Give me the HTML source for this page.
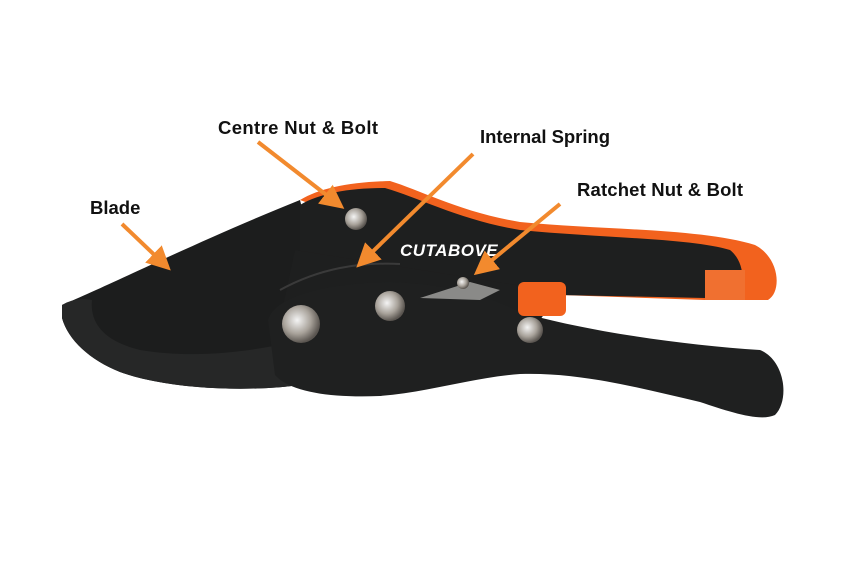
<!DOCTYPE html>
<html><head><meta charset="utf-8"><style>
html,body{margin:0;padding:0;background:#fff;}
svg{display:block;}
text{font-family:"Liberation Sans",sans-serif;font-weight:bold;fill:#111;}
</style></head><body>
<svg width="850" height="570" viewBox="0 0 850 570" xmlns="http://www.w3.org/2000/svg">
<defs>
<radialGradient id="bolt" cx="40%" cy="40%" r="60%"><stop offset="0" stop-color="#f4f4f4"/><stop offset="0.6" stop-color="#a8a29a"/><stop offset="1" stop-color="#5a5550"/></radialGradient>
<marker id="ah" markerWidth="6" markerHeight="6" refX="4" refY="3" orient="auto" markerUnits="strokeWidth"><path d="M0,0 L6,3 L0,6 Z" fill="#f28a2e"/></marker>
</defs>
<!-- blade -->
<path d="M62,305 C110,285 200,240 300,200 L320,280 L300,385 C250,392 170,390 120,372 C90,360 68,340 62,318 Z" fill="#1c1d1d"/>
<path d="M62,305 C70,300 80,298 92,300 C90,320 100,340 140,350 C200,360 260,350 300,340 L300,385 C250,392 170,390 120,372 C90,360 68,340 62,318 Z" fill="#262727"/>
<!-- top handle orange outline -->
<path d="M300,200 C320,188 350,182 390,181 C420,190 460,212 520,222 C600,230 700,228 755,245 C780,258 782,292 768,300 L705,300 L560,295 Z" fill="#f2621e"/>
<path d="M300,205 C320,193 350,188 385,188 C420,198 460,220 520,230 C600,238 690,238 730,250 C745,262 745,285 738,298 L705,298 L560,295 L300,260 Z" fill="#1e1f1f"/>
<path d="M295,250 L560,292 L540,320 L280,320 Z" fill="#1e1f1f"/>
<rect x="705" y="270" width="40" height="30" fill="#f07030"/>
<!-- lower handle -->
<path d="M268,320 C275,295 330,283 390,282 C440,284 480,292 520,312 C580,330 680,345 760,350 C785,360 790,400 775,415 C760,422 730,412 700,402 C640,388 580,372 520,374 C470,378 430,392 380,396 C330,398 290,392 275,375 Z" fill="#1f2020"/>
<path d="M280,290 C320,268 360,262 400,264" stroke="#3a3a3a" stroke-width="2" fill="none"/>
<!-- ratchet / button -->
<path d="M420,298 L470,282 L500,290 L480,300 Z" fill="#8a8a88"/>
<rect x="518" y="282" width="48" height="34" rx="6" fill="#f2621e"/>
<!-- bolts -->
<circle cx="356" cy="219" r="11" fill="url(#bolt)"/>
<circle cx="301" cy="324" r="19" fill="url(#bolt)"/>
<circle cx="390" cy="306" r="15" fill="url(#bolt)"/>
<circle cx="530" cy="330" r="13" fill="url(#bolt)"/>
<circle cx="463" cy="283" r="6" fill="url(#bolt)"/>
<!-- logo -->
<text x="400" y="256" font-size="17" style="fill:#fff;font-style:italic;letter-spacing:0.5px">CUTABOVE</text>
<!-- labels -->
<text x="218" y="134" font-size="18.5" textLength="160">Centre Nut &amp; Bolt</text>
<text x="480" y="143" font-size="18.5" textLength="130">Internal Spring</text>
<text x="577" y="196" font-size="18.5" textLength="166">Ratchet Nut &amp; Bolt</text>
<text x="90" y="214" font-size="18.5">Blade</text>
<!-- arrows -->
<g stroke="#f28a2e" stroke-width="4" fill="none" marker-end="url(#ah)">
<line x1="258" y1="142" x2="338" y2="204"/>
<line x1="473" y1="154" x2="362" y2="262"/>
<line x1="560" y1="204" x2="480" y2="270"/>
<line x1="122" y1="224" x2="165" y2="265"/>
</g>
</svg>
</body></html>
